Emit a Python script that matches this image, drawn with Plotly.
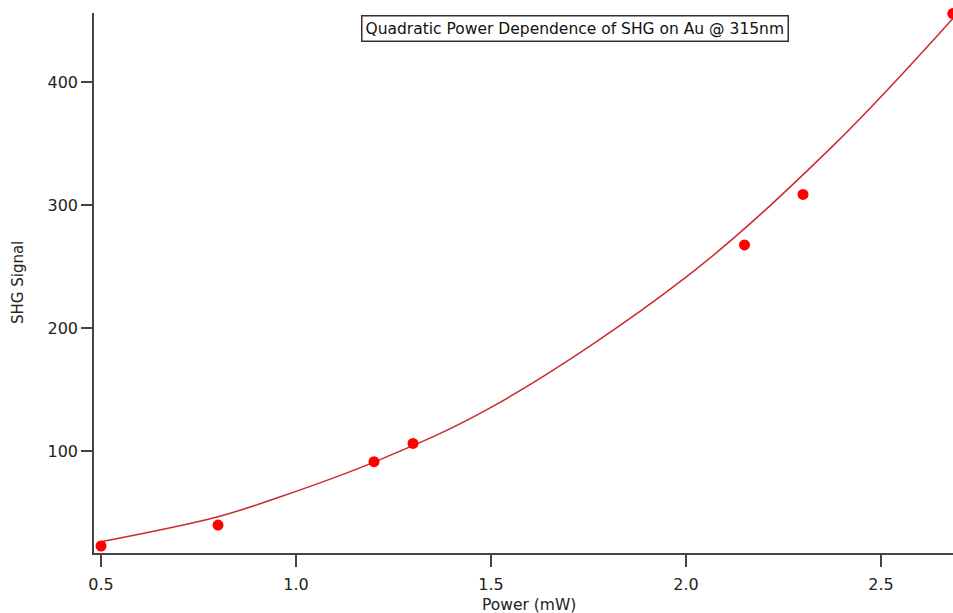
import plotly.graph_objects as go

# Measured data points
power_mw = [0.5, 0.8, 1.2, 1.3, 2.15, 2.3, 2.684]
shg_signal = [22.8, 39.8, 91.3, 106.2, 267.5, 308.5, 455.5]

# Fit curve
fit_power = [0.5, 0.8, 0.96, 1.2, 1.5, 2.0, 2.38, 2.69]
fit_signal = [26.3, 46.6, 62.8, 91.0, 135.4, 241.3, 349.0, 453.5]

x_ticks = [0.5, 1.0, 1.5, 2.0, 2.5]
y_ticks = [100, 200, 300, 400]

title_text = "Quadratic Power Dependence of SHG on Au @ 315nm"
x_title = "Power (mW)"
y_title = "SHG Signal"

font_family = "DejaVu Sans"
axis_color = "#444444"

fig = go.Figure()
fig.add_trace(go.Scatter(
    x=fit_power, y=fit_signal, mode="lines", line_shape="spline",
    line=dict(color="#cc2a2a", width=1.5), hoverinfo="skip",
))
fig.add_trace(go.Scatter(
    x=power_mw, y=shg_signal, mode="markers",
    marker=dict(color="#ff0000", size=11), cliponaxis=False,
))

fig.update_layout(
    width=953, height=613,
    margin=dict(l=94, r=0, t=13, b=60),
    paper_bgcolor="white", plot_bgcolor="white",
    showlegend=False,
    font=dict(family=font_family, color="#222222", size=14),
    xaxis=dict(
        range=[0.482, 2.6846], tickvals=x_ticks,
        ticktext=[f"{v:.1f}" for v in x_ticks],
        showgrid=False, zeroline=False,
        showline=True, linecolor=axis_color, linewidth=1.5,
        ticks="outside", ticklen=12, tickwidth=1.5, tickcolor=axis_color,
        ticklabelstandoff=4,
        tickfont=dict(size=16, family=font_family, color="#222222"),
    ),
    yaxis=dict(
        range=[17.1, 456], tickvals=y_ticks,
        showgrid=False, zeroline=False,
        showline=True, linecolor=axis_color, linewidth=1.5,
        ticks="outside", ticklen=11, tickwidth=1.5, tickcolor=axis_color,
        tickfont=dict(size=16, family=font_family, color="#222222"),
    ),
    annotations=[
        dict(text=title_text, xref="paper", yref="paper", x=0.56, y=0.972,
             xanchor="center", yanchor="middle", showarrow=False,
             font=dict(size=15.5, family=font_family, color="#111111"),
             bordercolor="#333333", borderwidth=1.5, borderpad=3,
             bgcolor="white"),
        dict(text=x_title, xref="paper", yref="paper", x=0.506, y=0,
             xanchor="center", yanchor="middle", yshift=-52, showarrow=False,
             font=dict(size=15.5, family=font_family, color="#222222")),
        dict(text=y_title, xref="paper", yref="paper", x=0, y=0.5,
             xanchor="center", yanchor="middle", xshift=-76, showarrow=False,
             textangle=-90,
             font=dict(size=15, family=font_family, color="#222222")),
    ],
)

fig.write_html("out.html")
